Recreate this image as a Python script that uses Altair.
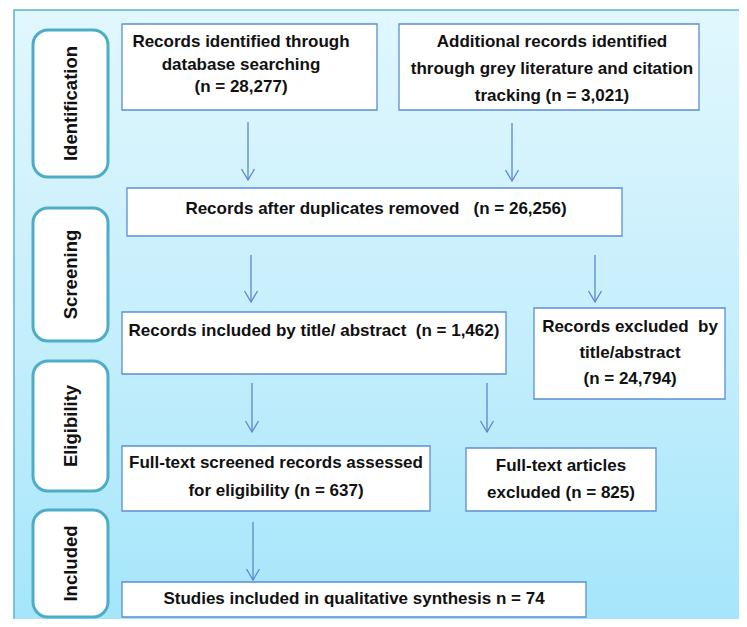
import altair as alt
import pandas as pd

# ---- content ----
stage_names = ["Identification", "Screening", "Eligibility", "Included"]
counts = [28277, 3021, 26256, 1462, 24794, 637, 825, 74]
box_lines = [
    ["Records identified through", "database searching", "(n = {n})"],
    ["Additional records identified", "through grey literature and citation", "tracking (n = {n})"],
    ["Records after duplicates removed\u00a0\u00a0\u00a0(n = {n})"],
    ["Records included by title/ abstract\u00a0\u00a0(n = {n})"],
    ["Records excluded\u00a0\u00a0by", "title/abstract", "(n = {n})"],
    ["Full-text screened records assessed", "for eligibility (n = {n})"],
    ["Full-text articles", "excluded (n = {n})"],
    ["Studies included in qualitative synthesis n = {n}"],
]

# ---- layout (reference pixel coordinates) ----
stage_layout = [(33, 108, 30, 177), (33, 108, 208, 341), (33, 108, 361, 491), (33, 108, 510, 617)]
box_layout = [(122, 377, 24, 110), (399, 699, 24, 110), (127, 622, 188, 236), (122, 506, 312, 374),
              (534, 725, 308, 399), (122, 430, 446, 511), (466, 656, 448, 511), (122, 586, 582, 617)]
text_anchor = [(241, 42, 22.5), (552, 42, 27), (376, 209, 0), (314, 331, 0),
               (630, 327, 26), (276, 463, 27.5), (561, 466, 27), (354, 599, 0)]
arrow_layout = [(248, 122, 180), (512, 123, 181), (251, 255, 302), (595, 255, 302),
                (487, 383, 432), (252, 383, 432), (253, 522, 580)]

xs = alt.Scale(domain=[8, 739], nice=False, zero=False)
ys = alt.Scale(domain=[8, 619], reverse=True, nice=False, zero=False)

panel_df = pd.DataFrame([{"x0": 14, "x1": 780, "y0": 10, "y1": 680}])
stage_df = pd.DataFrame([
    {"name": n, "x0": l[0], "x1": l[1], "y0": l[2], "y1": l[3],
     "cx": (l[0] + l[1]) / 2, "cy": (l[2] + l[3]) / 2}
    for n, l in zip(stage_names, stage_layout)
])
box_df = pd.DataFrame([{"x0": l[0], "x1": l[1], "y0": l[2], "y1": l[3]} for l in box_layout])
rows = []
for lines, n, (cx, y0, step) in zip(box_lines, counts, text_anchor):
    for i, ln in enumerate(lines):
        rows.append({"t": ln.format(n=f"{n:,}"), "x": cx, "y": y0 + i * step})
text_df = pd.DataFrame(rows)
arrow_df = pd.DataFrame([{"x": a[0], "y0": a[1], "y1": a[2]} for a in arrow_layout])

grad = alt.Gradient(
    gradient="linear",
    stops=[alt.GradientStop(offset=0, color="#e1f7fd"),
           alt.GradientStop(offset=0.5, color="#c4eefc"),
           alt.GradientStop(offset=1, color="#9ee4fb")],
    x1=0, y1=0, x2=0, y2=1,
)

panel = alt.Chart(panel_df).mark_rect(fill=grad, stroke="#5ab2d2", strokeWidth=1.5, clip=True).encode(
    x=alt.X("x0:Q", scale=xs, axis=None), x2="x1:Q",
    y=alt.Y("y0:Q", scale=ys, axis=None), y2="y1:Q",
)

stages = alt.Chart(stage_df).mark_rect(fill="white", stroke="#4dadc7", strokeWidth=3, cornerRadius=15).encode(
    x=alt.X("x0:Q", scale=xs, axis=None), x2="x1:Q",
    y=alt.Y("y0:Q", scale=ys, axis=None), y2="y1:Q",
)

stage_text = alt.Chart(stage_df).mark_text(
    angle=270, font="Liberation Sans", fontWeight="bold", fontSize=18.5,
    color="#111111", align="center", baseline="middle",
).encode(
    x=alt.X("cx:Q", scale=xs, axis=None),
    y=alt.Y("cy:Q", scale=ys, axis=None),
    text="name:N",
)

boxes = alt.Chart(box_df).mark_rect(fill="white", stroke="#5b8ed4", strokeWidth=1.3).encode(
    x=alt.X("x0:Q", scale=xs, axis=None), x2="x1:Q",
    y=alt.Y("y0:Q", scale=ys, axis=None), y2="y1:Q",
)

box_text = alt.Chart(text_df).mark_text(
    font="Liberation Sans", fontWeight="bold", fontSize=17,
    color="#111111", align="center", baseline="middle",
).encode(
    x=alt.X("x:Q", scale=xs, axis=None),
    y=alt.Y("y:Q", scale=ys, axis=None),
    text="t:N",
)

arrow_lines = alt.Chart(arrow_df).mark_rule(color="#5b87cc", strokeWidth=1.3).encode(
    x=alt.X("x:Q", scale=xs, axis=None),
    y=alt.Y("y0:Q", scale=ys, axis=None), y2="y1:Q",
)

arrow_heads = alt.Chart(arrow_df).mark_point(
    shape="M-0.59,-1L0,0L0.59,-1", size=484, filled=False,
    color="#5b87cc", strokeWidth=1.3, opacity=1,
).encode(
    x=alt.X("x:Q", scale=xs, axis=None),
    y=alt.Y("y1:Q", scale=ys, axis=None),
)

chart = alt.layer(panel, stages, stage_text, boxes, box_text, arrow_lines, arrow_heads).properties(
    width=731, height=611, padding=0, autosize=alt.AutoSizeParams(type="none"),
    background="white",
).configure_view(strokeWidth=0)

chart.save("out.html", embed_options={"renderer": "svg", "actions": False})
